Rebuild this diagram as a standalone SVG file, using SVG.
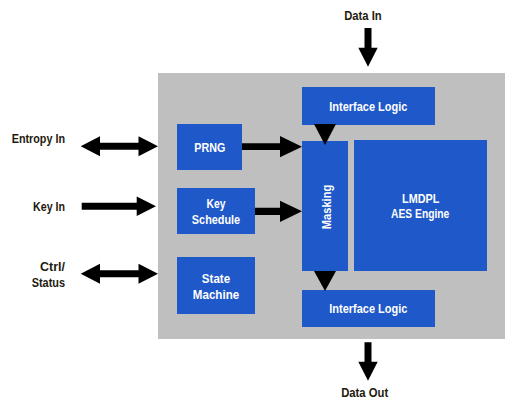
<svg xmlns="http://www.w3.org/2000/svg" width="506" height="399" viewBox="0 0 506 399">
<style>
.lbl{font-family:"Liberation Sans",Arial,sans-serif;font-weight:bold;font-size:12.5px;fill:#1E1A0E}
.box{fill:#1F58C8}
.bt{font-family:"Liberation Sans",Arial,sans-serif;font-weight:bold;font-size:13px;fill:#FFFFFF;text-anchor:middle}
.arr{fill:#000000}
</style>
<rect x="0" y="0" width="506" height="399" fill="#FFFFFF"/>
<g id="chip"><rect x="158" y="73" width="347" height="266" fill="#BFBFBF"/></g>
<g id="labels">
<text class="lbl" x="363" y="20" text-anchor="middle" textLength="37.5" lengthAdjust="spacingAndGlyphs">Data In</text>
<text class="lbl" x="364.7" y="397" text-anchor="middle" textLength="47" lengthAdjust="spacingAndGlyphs">Data Out</text>
<text class="lbl" x="11.7" y="142.7" textLength="53.3" lengthAdjust="spacingAndGlyphs">Entropy In</text>
<text class="lbl" x="33" y="210.7" textLength="32" lengthAdjust="spacingAndGlyphs">Key In</text>
<text class="lbl" x="40" y="271" textLength="25" lengthAdjust="spacingAndGlyphs">Ctrl/</text>
<text class="lbl" x="31.7" y="286.7" textLength="33.3" lengthAdjust="spacingAndGlyphs">Status</text>
</g>
<g id="prng"><rect class="box" x="177" y="124" width="65" height="46"/>
<text class="bt" x="209.8" y="151.7" textLength="31" lengthAdjust="spacingAndGlyphs">PRNG</text></g>
<g id="keyschedule"><rect class="box" x="177" y="188" width="78" height="46"/>
<text class="bt" x="216" y="208" textLength="19" lengthAdjust="spacingAndGlyphs">Key</text>
<text class="bt" x="216" y="224" textLength="48.3" lengthAdjust="spacingAndGlyphs">Schedule</text></g>
<g id="statemachine"><rect class="box" x="177" y="257" width="78" height="57"/>
<text class="bt" x="216" y="282.7" textLength="28.3" lengthAdjust="spacingAndGlyphs">State</text>
<text class="bt" x="216" y="298.7" textLength="46.3" lengthAdjust="spacingAndGlyphs">Machine</text></g>
<g id="iftop"><rect class="box" x="302" y="87" width="133" height="38"/>
<text class="bt" x="368.3" y="110.7" textLength="78" lengthAdjust="spacingAndGlyphs">Interface Logic</text></g>
<g id="masking"><rect class="box" x="302" y="141" width="46" height="130"/>
<text class="bt" transform="translate(330.5,207) rotate(-90)" x="0" y="0" textLength="44.3" lengthAdjust="spacingAndGlyphs">Masking</text></g>
<g id="aes"><rect class="box" x="354" y="140" width="133" height="131"/>
<text class="bt" x="420.7" y="203.3" textLength="37.3" lengthAdjust="spacingAndGlyphs">LMDPL</text>
<text class="bt" x="420.2" y="218.3" textLength="58.3" lengthAdjust="spacingAndGlyphs">AES Engine</text></g>
<g id="ifbot"><rect class="box" x="302" y="290" width="133" height="37"/>
<text class="bt" x="368.3" y="313.3" textLength="78" lengthAdjust="spacingAndGlyphs">Interface Logic</text></g>
<g id="connectors" class="arr">
<polygon points="364.5,28 371.5,28 371.5,47.7 377.7,47.7 368,66.7 358.3,47.7 364.5,47.7"/>
<polygon points="364.5,342.3 371.5,342.3 371.5,361.7 377.7,361.7 368,380.7 358.3,361.7 364.5,361.7"/>
<polygon points="80.7,146.3 100,136.3 100,142.8 138.5,142.8 138.5,136.3 158,146.3 138.5,156.3 138.5,149.8 100,149.8 100,156.3"/>
<polygon points="81.7,202.8 136.7,202.8 136.7,196.6 156,206.3 136.7,216 136.7,209.8 81.7,209.8"/>
<polygon points="80.7,273.7 100,263.7 100,270.2 138.5,270.2 138.5,263.7 158,273.7 138.5,283.7 138.5,277.2 100,277.2 100,283.7"/>
<polygon points="242,143.3 280,143.3 280,136 302,146.7 280,157.3 280,150 242,150"/>
<polygon points="255,207.7 280,207.7 280,200.7 302,211.3 280,222 280,215 255,215"/>
<polygon points="314,124 336,124 325,145"/>
<polygon points="314,271 336,271 325,291"/>
</g>
</svg>
